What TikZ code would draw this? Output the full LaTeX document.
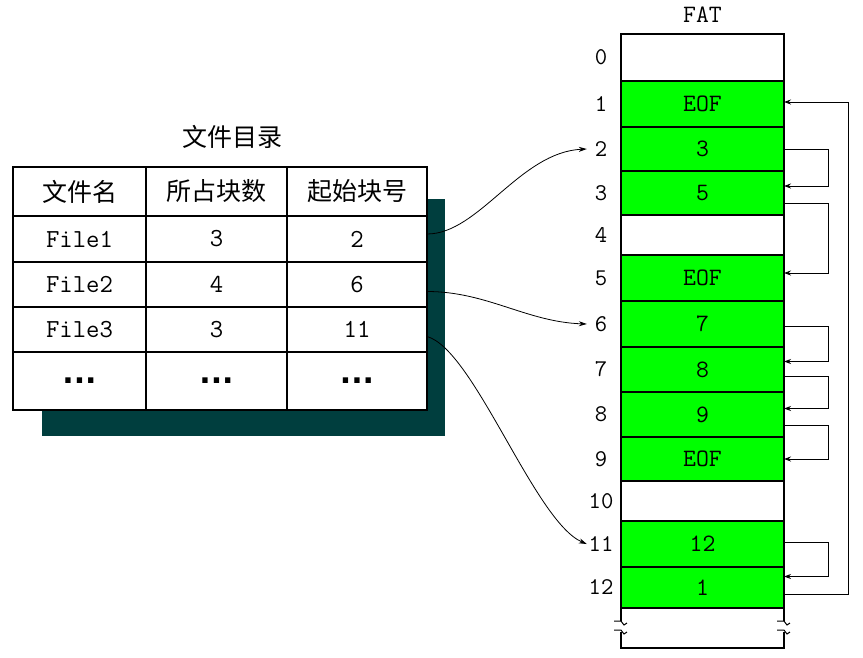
\documentclass[tikz,border=0pt]{standalone}
\usepackage{fontspec}
\newfontfamily\cjk{Noto Sans CJK SC}
\newfontfamily\dotfont{DejaVu Sans}
\usetikzlibrary{arrows.meta}
\definecolor{shadowcol}{RGB}{0,62,62}
\definecolor{fatgreen}{RGB}{0,255,0}
\begin{document}
\begin{tikzpicture}[x=1pt,y=-1pt,
  cell/.style={draw=black,line width=1.4pt,minimum width=#1,inner sep=0pt,outer sep=0pt,
    anchor=north west,font=\fontsize{26}{26}\selectfont\ttfamily},
  hcell/.style={cell=#1,font=\fontsize{25}{25}\selectfont\cjk},
  dcell/.style={cell=#1,font=\fontsize{30}{30}\selectfont\dotfont\bfseries},
  fatcell/.style={draw=black,line width=1.4pt,minimum width=163pt,inner sep=0pt,outer sep=0pt,
    anchor=north west,font=\fontsize{25}{25}\selectfont\ttfamily},
  lab/.style={minimum width=28pt,inner sep=0pt,font=\fontsize{24}{24}\selectfont\ttfamily},
  conn/.style={line width=0.9pt,-{Stealth[length=7pt,width=5pt]}},
  curv/.style={line width=0.8pt,-{Stealth[length=8pt,width=5pt]}},
  thickline/.style={line width=2.8pt},
  brk/.style={line width=1pt}]
\useasboundingbox (0,0) rectangle (863,657);

% ---- directory table ----
\node[font=\fontsize{25}{25}\selectfont\cjk] (title) at (232,137) {文件目录};
\fill[shadowcol] (42,199) rectangle (445,436);
\fill[white] (13,167) rectangle (427,410);

\node[hcell=133pt,minimum height=49pt] (t11) at (13,167) {文件名};
\node[hcell=141pt,minimum height=49pt] (t12) at (146,167) {所占块数};
\node[hcell=140pt,minimum height=49pt] (t13) at (287,167) {起始块号};

\node[cell=133pt,minimum height=46pt] (t21) at (13,216) {File1};
\node[cell=141pt,minimum height=46pt] (t22) at (146,216) {3};
\node[cell=140pt,minimum height=46pt] (t23) at (287,216) {2};

\node[cell=133pt,minimum height=45pt] (t31) at (13,262) {File2};
\node[cell=141pt,minimum height=45pt] (t32) at (146,262) {4};
\node[cell=140pt,minimum height=45pt] (t33) at (287,262) {6};

\node[cell=133pt,minimum height=45pt] (t41) at (13,307) {File3};
\node[cell=141pt,minimum height=45pt] (t42) at (146,307) {3};
\node[cell=140pt,minimum height=45pt] (t43) at (287,307) {11};

\node[dcell=133pt,minimum height=58pt] (t51) at (13,352) {...};
\node[dcell=141pt,minimum height=58pt] (t52) at (146,352) {...};
\node[dcell=140pt,minimum height=58pt] (t53) at (287,352) {...};

\draw[thickline] (t11.north west) rectangle (t53.south east);

% ---- FAT ----
\node[fatcell,minimum height=47pt] (f0) at (621,34) {};
\node[fatcell,fill=fatgreen,minimum height=46pt] (f1) at (621,81) {EOF};
\node[fatcell,fill=fatgreen,minimum height=44pt] (f2) at (621,127) {3};
\node[fatcell,fill=fatgreen,minimum height=44pt] (f3) at (621,171) {5};
\node[fatcell,minimum height=40pt] (f4) at (621,215) {};
\node[fatcell,fill=fatgreen,minimum height=46pt] (f5) at (621,255) {EOF};
\node[fatcell,fill=fatgreen,minimum height=46pt] (f6) at (621,301) {7};
\node[fatcell,fill=fatgreen,minimum height=45pt] (f7) at (621,347) {8};
\node[fatcell,fill=fatgreen,minimum height=45pt] (f8) at (621,392) {9};
\node[fatcell,fill=fatgreen,minimum height=44pt] (f9) at (621,437) {EOF};
\node[fatcell,minimum height=40pt] (f10) at (621,481) {};
\node[fatcell,fill=fatgreen,minimum height=46pt] (f11) at (621,521) {12};
\node[fatcell,fill=fatgreen,minimum height=41pt] (f12) at (621,567) {1};
\node[inner sep=0pt,outer sep=0pt,minimum width=163pt,minimum height=40pt,anchor=north west] (f13) at (621,608) {};

\node[font=\fontsize{25}{25}\selectfont\ttfamily] (fattitle) at ([yshift=19pt]f0.north) {FAT};

% outer frame with break
\draw[thickline] ([yshift=-13pt]f13.north west) |- (f0.north east) -- ([yshift=-13pt]f13.north east);
\draw[thickline] ([yshift=-24pt]f13.north west) |- (f13.south east) -- ([yshift=-24pt]f13.north east);
\draw[brk] ([xshift=-7pt,yshift=-13pt]f13.north west) -- ([yshift=-13pt]f13.north west)
  -- ([xshift=3pt,yshift=-17pt]f13.north west) -- ([xshift=6pt,yshift=-15pt]f13.north west);
\draw[brk] ([xshift=-7pt,yshift=-22pt]f13.north west) -- ([yshift=-22pt]f13.north west)
  -- ([xshift=3pt,yshift=-26pt]f13.north west) -- ([xshift=6pt,yshift=-24pt]f13.north west);
\draw[brk] ([xshift=-7pt,yshift=-13pt]f13.north east) -- ([yshift=-13pt]f13.north east)
  -- ([xshift=3pt,yshift=-17pt]f13.north east) -- ([xshift=6pt,yshift=-15pt]f13.north east);
\draw[brk] ([xshift=-7pt,yshift=-22pt]f13.north east) -- ([yshift=-22pt]f13.north east)
  -- ([xshift=3pt,yshift=-26pt]f13.north east) -- ([xshift=6pt,yshift=-24pt]f13.north east);

% row labels
\node[lab] (l0) at ([xshift=-20pt]f0.west) {0};
\node[lab] (l1) at ([xshift=-20pt]f1.west) {1};
\node[lab] (l2) at ([xshift=-20pt]f2.west) {2};
\node[lab] (l3) at ([xshift=-20pt]f3.west) {3};
\node[lab] (l4) at ([xshift=-20pt]f4.west) {4};
\node[lab] (l5) at ([xshift=-20pt]f5.west) {5};
\node[lab] (l6) at ([xshift=-20pt]f6.west) {6};
\node[lab] (l7) at ([xshift=-20pt]f7.west) {7};
\node[lab] (l8) at ([xshift=-20pt]f8.west) {8};
\node[lab] (l9) at ([xshift=-20pt]f9.west) {9};
\node[lab] (l10) at ([xshift=-20pt]f10.west) {10};
\node[lab] (l11) at ([xshift=-20pt]f11.west) {11};
\node[lab] (l12) at ([xshift=-20pt]f12.west) {12};

% chain links on the right
\draw[conn] (f2.east) -- ++(44,0) |- ([yshift=7pt]f3.east);
\draw[conn] ([yshift=-10pt]f3.east) -- ++(44,0) |- ([yshift=5pt]f5.east);
\draw[conn] ([yshift=-2pt]f6.east) -- ++(44,0) |- ([yshift=8pt]f7.east);
\draw[conn] ([yshift=-7pt]f7.east) -- ++(44,0) |- ([yshift=6pt]f8.east);
\draw[conn] ([yshift=-11pt]f8.east) -- ++(44,0) |- (f9.east);
\draw[conn] ([yshift=2pt]f11.east) -- ++(44,0) |- ([yshift=11pt]f12.east);
\draw[conn] ([yshift=-7pt]f12.east) -- ++(64,0) |- ([yshift=2pt]f1.east);

% start-block links
\draw[curv] ([yshift=5pt]t23.east) .. controls +(52,0) and +(-67,3) .. (l2.west);
\draw[curv] ([yshift=-7pt]t33.east) .. controls +(60,0) and +(-60,-2) .. (l6.west);
\draw[curv] ([yshift=-7pt]t43.east) .. controls +(47,13) and +(-52,-22) .. (l11.west);
\end{tikzpicture}
\end{document}
